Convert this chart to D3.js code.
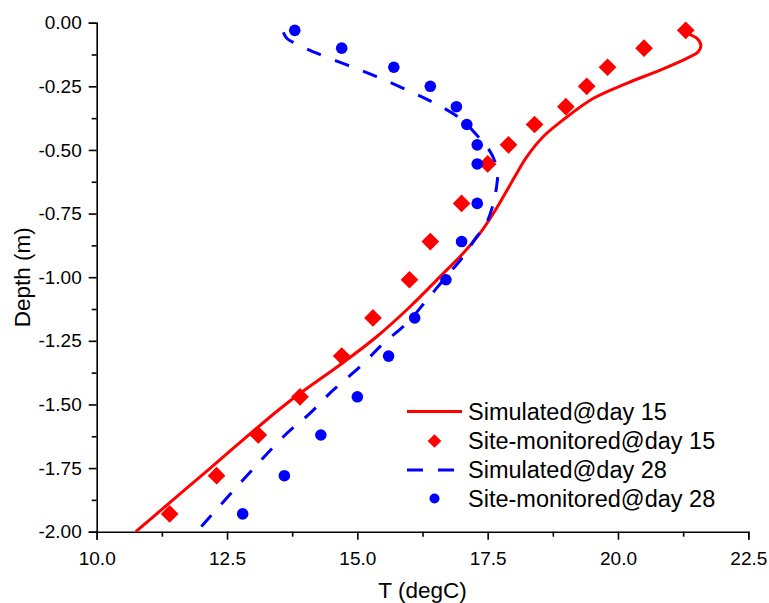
<!DOCTYPE html>
<html>
<head>
<meta charset="utf-8">
<script src="https://cdn.jsdelivr.net/npm/d3@7"></script>
<style>
  html, body { margin: 0; padding: 0; background: #fff; }
  svg { display: block; font-family: "Liberation Sans", Arial, sans-serif; }
</style>
</head>
<body>
<div id="chart"></div>
<script>
// observed depths (m) shared by both monitoring days
const depthObs = [-0.03, -0.10, -0.175, -0.25, -0.33, -0.40, -0.48, -0.555,
  -0.71, -0.86, -1.01, -1.16, -1.31, -1.47, -1.62, -1.78, -1.93];
const obsDay15 = [21.3, 20.5, 19.8, 19.4, 19.0, 18.4, 17.9, 17.5,
  17.0, 16.4, 16.0, 15.3, 14.7, 13.9, 13.1, 12.3, 11.4];
const obsDay28 = [13.8, 14.7, 15.7, 16.4, 16.9, 17.1, 17.3, 17.3,
  17.3, 17.0, 16.7, 16.1, 15.6, 15.0, 14.3, 13.6, 12.8];

// simulated profiles, [T, depth]
const simDay15 = [[21.32, -0.042], [21.51, -0.061], [21.59, -0.088], [21.54, -0.114],
  [21.32, -0.140], [20.81, -0.186], [20.17, -0.238], [19.53, -0.297], [18.94, -0.383],
  [18.56, -0.449], [18.25, -0.527], [18.02, -0.605], [17.80, -0.684], [17.61, -0.749],
  [17.35, -0.828], [17.03, -0.906], [16.65, -0.985], [16.01, -1.116], [15.37, -1.234],
  [14.73, -1.335], [13.62, -1.50], [12.18, -1.75], [10.75, -2.0]];
const simDay28 = [[13.58, -0.038], [13.65, -0.062], [13.81, -0.081], [14.22, -0.120],
  [14.80, -0.166], [15.37, -0.212], [15.95, -0.264], [16.49, -0.317], [16.97, -0.376],
  [17.32, -0.448], [17.51, -0.494], [17.64, -0.546], [17.69, -0.598], [17.67, -0.645],
  [17.61, -0.710], [17.45, -0.800], [17.29, -0.841], [17.03, -0.919], [16.65, -1.011],
  [16.33, -1.090], [15.95, -1.181], [15.50, -1.260], [15.05, -1.352], [14.54, -1.443],
  [14.09, -1.535], [13.58, -1.627], [11.92, -2.0]];

const xTicks = [10.0, 12.5, 15.0, 17.5, 20.0, 22.5];
const xMinor = [11.25, 13.75, 16.25, 18.75, 21.25];
const yTicks = [0, -0.25, -0.5, -0.75, -1.0, -1.25, -1.5, -1.75, -2.0];
const yMinor = [-0.125, -0.375, -0.625, -0.875, -1.125, -1.375, -1.625, -1.875];

const legendLabels = ["Simulated@day 15", "Site-monitored@day 15", "Simulated@day 28", "Site-monitored@day 28"];

const W = 769, H = 603;
const m = { top: 22.7, right: 20.7, bottom: 71.3, left: 96.7 };
const RED = "#ff0000", BLUE = "#0000ff";

const svg = d3.select("#chart").append("svg").attr("width", W).attr("height", H);

const x = d3.scaleLinear().domain([10, 22.5]).range([m.left, W - m.right]);
const y = d3.scaleLinear().domain([-2, 0]).range([H - m.bottom, m.top]);

// axes
svg.append("g").attr("transform", `translate(0,${H - m.bottom})`)
  .call(d3.axisBottom(x).tickValues(xTicks).tickFormat(d => d.toFixed(1))
    .tickSizeOuter(0).tickSize(8).tickPadding(12));
svg.append("g").attr("transform", `translate(0,${H - m.bottom})`)
  .call(d3.axisBottom(x).tickValues(xMinor).tickFormat("").tickSizeOuter(0).tickSize(5))
  .select(".domain").remove();
svg.append("g").attr("transform", `translate(${m.left},0)`)
  .call(d3.axisLeft(y).tickValues(yTicks).tickFormat(d => d.toFixed(2))
    .tickSizeOuter(0).tickSize(8).tickPadding(7));
svg.append("g").attr("transform", `translate(${m.left},0)`)
  .call(d3.axisLeft(y).tickValues(yMinor).tickFormat("").tickSizeOuter(0).tickSize(5))
  .select(".domain").remove();

svg.selectAll(".domain, .tick line").attr("stroke", "#000").attr("stroke-width", 1.6);
svg.selectAll(".tick text").attr("fill", "#000").attr("font-size", 19)
  .attr("font-family", "Liberation Sans, Arial, sans-serif");

svg.append("text").attr("x", (m.left + W - m.right) / 2).attr("y", 598)
  .attr("text-anchor", "middle").attr("font-size", 22.5).text("T (degC)");
svg.append("text")
  .attr("transform", `translate(30,${(m.top + H - m.bottom) / 2}) rotate(-90)`)
  .attr("text-anchor", "middle").attr("font-size", 22.5).text("Depth (m)");

// curves
const line = d3.line().x(d => x(d[0])).y(d => y(d[1])).curve(d3.curveCatmullRom.alpha(0.5));
svg.append("path").datum(simDay15).attr("d", line)
  .attr("fill", "none").attr("stroke", RED).attr("stroke-width", 3);
svg.append("path").datum(simDay28).attr("d", line)
  .attr("fill", "none").attr("stroke", BLUE).attr("stroke-width", 3)
  .attr("stroke-dasharray", "15,15");

// observed points
const diamond = d3.symbol().type(d3.symbolDiamond2).size(200);
svg.append("g").selectAll("path").data(depthObs).join("path")
  .attr("d", diamond)
  .attr("transform", (d, i) => `translate(${x(obsDay15[i])},${y(d)})`)
  .attr("fill", RED);
svg.append("g").selectAll("circle").data(depthObs).join("circle")
  .attr("cx", (d, i) => x(obsDay28[i])).attr("cy", d => y(d)).attr("r", 5.8)
  .attr("fill", BLUE);

// legend
const lg = svg.append("g");
const rowY = [411.5, 441, 470, 498.5];
const sx0 = 407, sx1 = 462, tx = 468;
lg.append("line").attr("x1", sx0).attr("x2", sx1).attr("y1", rowY[0]).attr("y2", rowY[0])
  .attr("stroke", RED).attr("stroke-width", 3);
lg.append("path").attr("d", d3.symbol().type(d3.symbolDiamond2).size(120))
  .attr("transform", `translate(${(sx0 + sx1) / 2},${rowY[1]})`).attr("fill", RED);
lg.append("line").attr("x1", sx0).attr("x2", sx1).attr("y1", rowY[2]).attr("y2", rowY[2])
  .attr("stroke", BLUE).attr("stroke-width", 3).attr("stroke-dasharray", "16,15");
lg.append("circle").attr("cx", (sx0 + sx1) / 2).attr("cy", rowY[3]).attr("r", 5)
  .attr("fill", BLUE);
lg.selectAll("text").data(legendLabels).join("text")
  .attr("x", tx).attr("y", (d, i) => rowY[i]).attr("dy", "0.36em")
  .attr("font-size", 23.5).attr("fill", "#000").text(d => d);
</script>
</body>
</html>
